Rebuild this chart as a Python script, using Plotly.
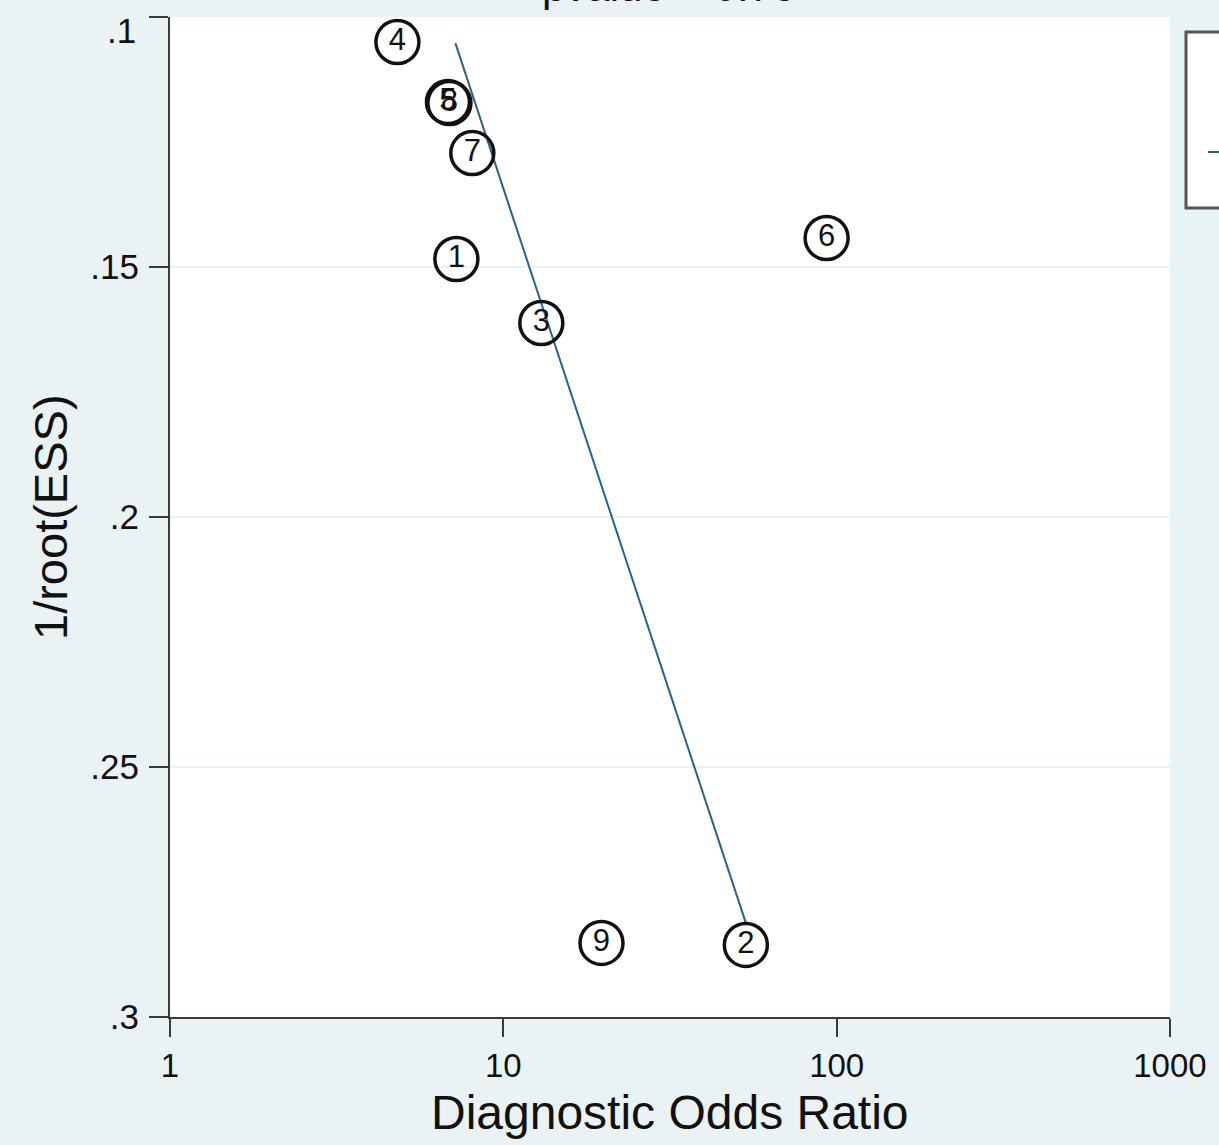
import plotly.graph_objects as go

# Study data (Deeks' funnel plot)
study_ids = ["4", "5", "8", "7", "1", "3", "9", "2", "6"]
dor = [4.81, 6.82, 6.89, 8.07, 7.23, 13.0, 19.7, 53.4, 93.3]
inv_root_ess = [0.105, 0.1170, 0.1172, 0.1272, 0.1484, 0.1612, 0.2852, 0.2856, 0.1442]

# Regression line end points
line_dor = [7.18, 53.4]
line_ess = [0.1052, 0.2812]

x_tickvals = [1, 10, 100, 1000]
x_ticktext = ["1", "10", "100", "1000"]
y_tickvals = [0.1, 0.15, 0.2, 0.25, 0.3]
y_ticktext = [".1", ".15", ".2", ".25", ".3"]

FONT = "Liberation Sans, Arial, Helvetica, sans-serif"
BG = "#eaf2f3"
AX = "#3a3a3a"

fig = go.Figure()

fig.add_trace(go.Scatter(
    x=line_dor, y=line_ess, mode="lines",
    line=dict(color="#2a628a", width=2),
    name="Regression Line", showlegend=False, hoverinfo="skip"))

fig.add_trace(go.Scatter(
    x=dor, y=inv_root_ess, mode="markers+text",
    text=study_ids, textposition="middle center",
    textfont=dict(family=FONT, size=31, color="#111111"),
    marker=dict(symbol="circle-open", size=43, color="#111111",
                line=dict(color="#111111", width=3.5)),
    name="Study", showlegend=False))

fig.update_layout(
    width=1219, height=1145,
    margin=dict(l=170, r=49, t=17, b=128, autoexpand=False),
    paper_bgcolor=BG, plot_bgcolor="white",
    font=dict(family=FONT, color="#111111"),
    showlegend=False,
)

fig.update_xaxes(
    type="log", range=[-0.0001, 3.0001],
    tickvals=x_tickvals, ticktext=x_ticktext,
    ticks="outside", ticklen=18, tickwidth=2, tickcolor=AX,
    showline=True, linecolor=AX, linewidth=2,
    showgrid=False, zeroline=False,
    tickfont=dict(family=FONT, size=33, color="#111111"),
    ticklabeloverflow="allow", automargin=False,
)
# top tick label (".1") is drawn below as an annotation, aligned under its tick
y_axis_text = [""] + y_ticktext[1:]
fig.update_yaxes(
    range=[0.30002, 0.09998],
    tickvals=y_tickvals, ticktext=y_axis_text,
    ticks="outside", ticklen=19, tickwidth=2, tickcolor=AX,
    showline=True, linecolor=AX, linewidth=2,
    showgrid=True, gridcolor=BG, gridwidth=2, zeroline=False,
    tickfont=dict(family=FONT, size=35, color="#111111"),
    ticklabelstandoff=3, ticklabeloverflow="allow", automargin=False,
)
fig.add_annotation(text=y_ticktext[0], xref="paper", yref="y",
                   x=-0.032, y=y_tickvals[0], xanchor="right", yanchor="top",
                   yshift=8, showarrow=False,
                   font=dict(family=FONT, size=35, color="#111111"))

# Axis titles
fig.add_annotation(text="Diagnostic Odds Ratio", xref="paper", yref="paper",
                   x=0.5, y=-0.095, xanchor="center", yanchor="middle",
                   showarrow=False, font=dict(family=FONT, size=48, color="#111111"))
fig.add_annotation(text="1/root(ESS)", xref="paper", yref="paper",
                   x=-0.12, y=0.5, xanchor="center", yanchor="middle", textangle=-90,
                   showarrow=False, font=dict(family=FONT, size=47, color="#111111"))
# Title, mostly cut off at the top edge
fig.add_annotation(text="pvalue = 0.76", xref="paper", yref="paper",
                   x=0.498, y=1.030, xanchor="center", yanchor="middle",
                   showarrow=False, font=dict(family=FONT, size=42, color="#111111"))

# Legend box (cropped at right edge)
fig.add_shape(type="rect", xref="paper", yref="paper",
              x0=1.016, x1=1.12, y0=0.809, y1=0.985,
              line=dict(color="#555555", width=3), fillcolor="white")
fig.add_shape(type="line", xref="paper", yref="paper",
              x0=1.038, x1=1.12, y0=0.865, y1=0.865,
              line=dict(color="#2a628a", width=2))

fig.write_html("out.html")
